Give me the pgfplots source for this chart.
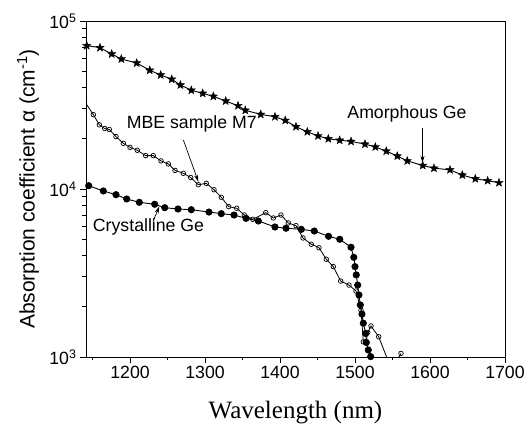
\documentclass[border=0pt]{standalone}
\usepackage{fontspec}
\setmainfont{Liberation Sans}
\newfontfamily\timesfont{Liberation Serif}
\usepackage{pgfplots}
\pgfplotsset{compat=1.18}
\usetikzlibrary{arrows.meta}

% filled five-point star mark
\pgfdeclareplotmark{fstar}{%
  \pgfpathmoveto{\pgfpointpolar{90}{\pgfplotmarksize}}%
  \pgfpathlineto{\pgfpointpolar{126}{0.42\pgfplotmarksize}}%
  \pgfpathlineto{\pgfpointpolar{162}{\pgfplotmarksize}}%
  \pgfpathlineto{\pgfpointpolar{198}{0.42\pgfplotmarksize}}%
  \pgfpathlineto{\pgfpointpolar{234}{\pgfplotmarksize}}%
  \pgfpathlineto{\pgfpointpolar{270}{0.42\pgfplotmarksize}}%
  \pgfpathlineto{\pgfpointpolar{306}{\pgfplotmarksize}}%
  \pgfpathlineto{\pgfpointpolar{342}{0.42\pgfplotmarksize}}%
  \pgfpathlineto{\pgfpointpolar{18}{\pgfplotmarksize}}%
  \pgfpathlineto{\pgfpointpolar{54}{0.42\pgfplotmarksize}}%
  \pgfpathclose\pgfusepathqfillstroke}

\pgfplotstableread{
x y
1142.3 71300
1160.0 69400
1175.6 63600
1188.4 59400
1208.9 56200
1226.3 50900
1240.9 47700
1255.6 45000
1267.1 41600
1281.7 38700
1296.9 37100
1311.1 35600
1327.6 33400
1344.0 31300
1353.7 29400
1374.3 27800
1393.3 26900
1407.0 25600
1421.3 23500
1436.4 21900
1450.7 20700
1464.4 19900
1479.6 19500
1494.7 19200
1513.3 18500
1527.1 17800
1541.7 16800
1556.4 15700
1569.7 14700
1590.3 13800
1605.3 13300
1626.7 13000
1643.1 12100
1660.4 11500
1676.9 11200
1692.0 10900
}\amorphous

\pgfplotstableread{
x y
1141.0 32400
1151.1 27700
1159.1 24100
1166.3 22900
1172.4 22600
1181.3 20500
1191.1 18700
1200.0 17700
1209.7 17000
1220.9 15800
1231.1 15800
1241.3 14700
1251.1 14100
1260.0 12900
1271.1 12400
1280.9 11700
1291.1 10600
1301.7 10800
1312.0 9900
1321.7 8930
1331.6 7850
1342.3 7680
1352.4 7000
1363.6 6600
1381.0 7230
1391.1 6720
1401.3 7000
1411.1 6280
1421.3 6050
1430.7 5110
1441.7 4690
1452.0 4470
1461.7 3820
1471.1 3450
1480.9 2830
1492.0 2680
1501.3 2470
1508.0 1900
1511.1 1230
1514.7 1220
1517.0 1400
1521.3 1530
1531.6 1320
1542.3 995
1551.0 870
1561.3 1050
}\mbe

\pgfplotstableread{
x y
1144.9 10460
1164.4 9730
1181.3 9250
1195.6 8720
1212.4 8330
1232.9 8110
1246.3 7740
1264.0 7600
1281.7 7530
1305.3 7290
1321.7 7130
1338.7 7000
1354.7 6690
1371.1 6450
1393.3 5940
1408.0 5840
1428.4 5750
1445.7 5620
1464.7 5230
1479.7 5020
1494.7 4500
1498.4 3920
1500.0 3450
1501.7 3080
1503.6 2680
1505.3 2340
1507.1 2040
1509.3 1800
1511.1 1590
1514.3 1380
1515.1 1220
1517.7 1100
1520.9 1005
}\crystal

\begin{document}
\begin{tikzpicture}
\begin{axis}[
  scale only axis,
  width=419pt, height=336pt,
  xmin=1141.3, xmax=1700,
  ymode=log, ymin=1000, ymax=100000,
  xtick={1200,1300,1400,1500,1600,1700},
  minor xtick={1150,1250,1350,1450,1550,1650},
  ytick={1000,10000,100000},
  yticklabels={10\textsuperscript{3},10\textsuperscript{4},10\textsuperscript{5}},
  /pgf/number format/assume math mode=true,
  /pgf/number format/1000 sep={},
  tick align=outside, tick pos=left,
  major tick length=6pt, minor tick length=3.5pt,
  every tick/.style={black, line width=0.8pt},
  axis line style={line width=0.9pt},
  tick label style={font=\fontsize{17.7}{20}\selectfont},
  xlabel={\timesfont Wavelength (nm)},
  xlabel style={font=\fontsize{25}{28}\selectfont, at={(axis description cs:0.5,-0.1845)}, anchor=base},
  ylabel={Absorption coefficient α (cm\textsuperscript{-1})},
  ylabel style={font=\fontsize{21}{24}\selectfont, at={(axis description cs:-0.1384,0.5)}, anchor=center},
  clip=true,
]
\addplot[black, line width=0.9pt, mark=fstar, mark size=4.3pt, mark options={fill=black, line width=0.4pt}] table {\amorphous};
\addplot[black, line width=0.8pt, mark=o, mark size=2.3pt, mark options={fill=white, line width=0.7pt}] table {\mbe};
\addplot[black, line width=0.9pt, mark=*, mark size=3.1pt, mark options={fill=black}] table {\crystal};

\node[font=\fontsize{17.7}{20}\selectfont] at (axis cs:1569.3,27900) {Amorphous Ge};
\draw[-{Stealth[length=7pt,width=4pt]}, line width=0.7pt] (axis cs:1590,23100) -- (axis cs:1590,14300);
\node[font=\fontsize{17.7}{20}\selectfont] at (axis cs:1282.3,24400) {MBE sample M7};
\draw[-{Stealth[length=7pt,width=4pt]}, line width=0.7pt] (axis cs:1271.1,19600) -- (axis cs:1291.1,11050);
\node[font=\fontsize{17.7}{20}\selectfont] at (axis cs:1224.7,5940) {Crystalline Ge};
\draw[-{Stealth[length=7pt,width=4pt]}, line width=0.7pt] (axis cs:1230.7,6410) -- (axis cs:1239,7870);
\end{axis}
\path ([shift={(-86pt,-71pt)}]current axis.south west) rectangle ([shift={(23pt,21pt)}]current axis.north east);
\end{tikzpicture}
\end{document}
